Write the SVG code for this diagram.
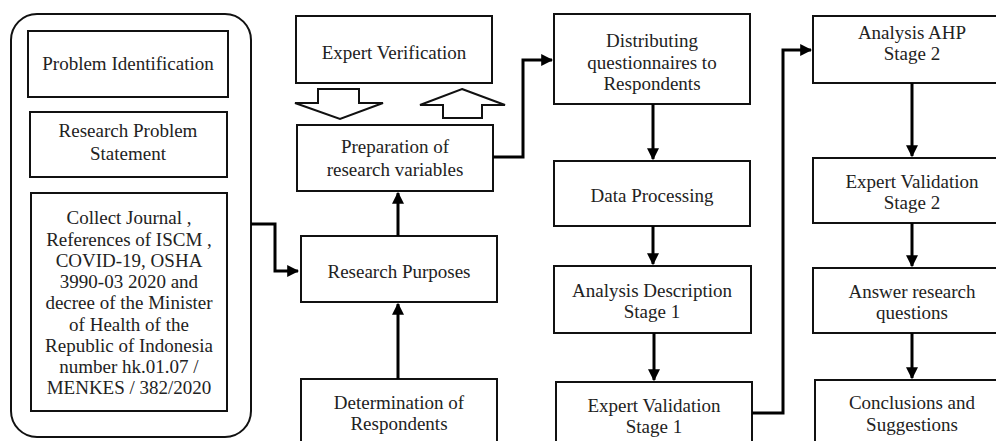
<svg xmlns="http://www.w3.org/2000/svg" width="996" height="441" viewBox="0 0 996 441">
<defs>
<style>
.box{fill:#fff;stroke:#111;stroke-width:2}
.t{font-family:"Liberation Serif","Times New Roman",serif;font-size:19px;fill:#222;text-anchor:middle}
.c{fill:none;stroke:#000;stroke-width:3}
.hollow{fill:#fff;stroke:#111;stroke-width:2;stroke-linejoin:miter}
</style>
<marker id="ah" viewBox="0 0 10 10" refX="9" refY="5" markerWidth="4" markerHeight="4" orient="auto" markerUnits="strokeWidth">
<path d="M0,0 L10,5 L0,10 z" fill="#000"/>
</marker>
</defs>
<rect width="996" height="441" fill="#fff"/>

<g id="container">
<rect x="11" y="14" width="240" height="423" rx="26" ry="26" fill="none" stroke="#111" stroke-width="2"/>
</g>

<g id="problem-identification">
<rect class="box" x="28" y="31" width="200" height="66"/>
<text class="t" x="128" y="70">Problem Identification</text>
</g>

<g id="research-problem-statement">
<rect class="box" x="30" y="112" width="197" height="65"/>
<text class="t" x="128" y="137">Research Problem</text>
<text class="t" x="128" y="160">Statement</text>
</g>

<g id="collect-journal">
<rect class="box" x="31" y="193" width="196" height="218"/>
<text class="t" x="129" y="224">Collect Journal ,</text>
<text class="t" x="129" y="245.5">References of ISCM ,</text>
<text class="t" x="129" y="266.5">COVID-19, OSHA</text>
<text class="t" x="129" y="288">3990-03 2020 and</text>
<text class="t" x="129" y="309">decree of the Minister</text>
<text class="t" x="129" y="330.5">of Health of the</text>
<text class="t" x="129" y="351.5">Republic of Indonesia</text>
<text class="t" x="129" y="373">number  hk.01.07  /</text>
<text class="t" x="129" y="394">MENKES  /  382/2020</text>
</g>

<g id="expert-verification">
<rect class="box" x="296" y="16" width="196" height="67"/>
<text class="t" x="394" y="59">Expert Verification</text>
</g>

<g id="hollow-arrows">
<polygon class="hollow" points="318,89 359,89 359,103 383,103 340,119 295,103 318,103"/>
<polygon class="hollow" points="462,89 505,105 482,105 482,118 443,118 443,105 420,105"/>
</g>

<g id="preparation">
<rect class="box" x="297" y="125" width="196" height="66"/>
<text class="t" x="395" y="153">Preparation of</text>
<text class="t" x="395" y="176">research variables</text>
</g>

<g id="research-purposes">
<rect class="box" x="301" y="236" width="196" height="66"/>
<text class="t" x="399" y="278">Research Purposes</text>
</g>

<g id="determination">
<rect class="box" x="301" y="379" width="196" height="70"/>
<text class="t" x="399" y="409">Determination  of</text>
<text class="t" x="399" y="430">Respondents</text>
</g>

<g id="distributing">
<rect class="box" x="554" y="14" width="196" height="90"/>
<text class="t" x="652" y="47">Distributing</text>
<text class="t" x="652" y="69">questionnaires to</text>
<text class="t" x="652" y="90">Respondents</text>
</g>

<g id="data-processing">
<rect class="box" x="554" y="161" width="196" height="65"/>
<text class="t" x="652" y="202">Data Processing</text>
</g>

<g id="analysis-description">
<rect class="box" x="554" y="266" width="197" height="67"/>
<text class="t" x="652" y="297">Analysis Description</text>
<text class="t" x="652" y="318">Stage 1</text>
</g>

<g id="expert-validation-1">
<rect class="box" x="556" y="382" width="196" height="70"/>
<text class="t" x="654" y="412">Expert Validation</text>
<text class="t" x="654" y="433">Stage 1</text>
</g>

<g id="analysis-ahp">
<rect class="box" x="813" y="16" width="200" height="67"/>
<text class="t" x="912" y="39">Analysis AHP</text>
<text class="t" x="912" y="60">Stage 2</text>
</g>

<g id="expert-validation-2">
<rect class="box" x="813" y="158" width="200" height="65"/>
<text class="t" x="912" y="188">Expert Validation</text>
<text class="t" x="912" y="209">Stage 2</text>
</g>

<g id="answer-research-questions">
<rect class="box" x="813" y="268" width="200" height="65"/>
<text class="t" x="912" y="298">Answer research</text>
<text class="t" x="912" y="319">questions</text>
</g>

<g id="conclusions">
<rect class="box" x="815" y="380" width="200" height="70"/>
<text class="t" x="912" y="409">Conclusions and</text>
<text class="t" x="912" y="431">Suggestions</text>
</g>

<g id="connectors">
<polyline class="c" points="251,224 275,224 275,271 298,271" marker-end="url(#ah)"/>
<line class="c" x1="398" y1="236" x2="398" y2="193" marker-end="url(#ah)"/>
<line class="c" x1="398" y1="379" x2="398" y2="304" marker-end="url(#ah)"/>
<polyline class="c" points="493,157 523,157 523,60 552,60" marker-end="url(#ah)"/>
<line class="c" x1="653" y1="104" x2="653" y2="159" marker-end="url(#ah)"/>
<line class="c" x1="653" y1="226" x2="653" y2="264" marker-end="url(#ah)"/>
<line class="c" x1="654" y1="333" x2="654" y2="380" marker-end="url(#ah)"/>
<polyline class="c" points="752,413 783,413 783,50 811,50" marker-end="url(#ah)"/>
<line class="c" x1="912" y1="83" x2="912" y2="156" marker-end="url(#ah)"/>
<line class="c" x1="912" y1="223" x2="912" y2="266" marker-end="url(#ah)"/>
<line class="c" x1="912" y1="333" x2="912" y2="378" marker-end="url(#ah)"/>
</g>
</svg>
